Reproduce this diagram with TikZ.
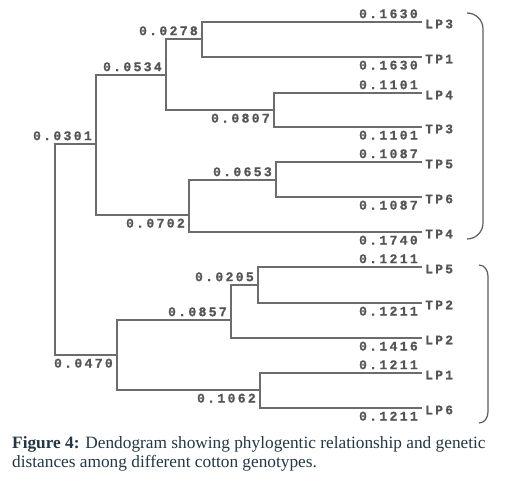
\documentclass[tikz,border=0pt]{standalone}
\usepackage{fontspec}
\setmainfont{Liberation Serif}
\newfontfamily\treefont[LetterSpace=17,BoldFeatures={FakeBold=0.8}]{Liberation Mono}
\usetikzlibrary{positioning}
\definecolor{brLine}{RGB}{108,108,108}
\definecolor{txGray}{RGB}{85,85,85}
\definecolor{capInk}{RGB}{35,55,68}
\begin{document}
\begin{tikzpicture}[x=1pt,y=-1pt,
  br/.style={draw=brLine,line width=1.4pt},
  brk/.style={draw=brLine!85!black,line width=1.2pt},
  dist/.style={font=\treefont\bfseries\fontsize{13.2}{14}\selectfont,text=txGray,inner sep=1.5pt},
  up/.style={dist,anchor=south east,xshift=-2pt,yshift=1.5pt},
  dn/.style={dist,anchor=north east,xshift=-2pt,yshift=-1.5pt},
  leaf/.style={font=\treefont\bfseries\fontsize{13}{14}\selectfont,text=txGray,anchor=west,
    text height=7.5pt,text depth=0pt,inner sep=3pt}]
\useasboundingbox (0,0) rectangle (509,490);
\coordinate (root) at (55,250);
\coordinate (nA) at (96,144);
\coordinate (nB) at (166,75);
\coordinate (nC) at (202,39);
\coordinate (nD) at (274,110);
\coordinate (nE) at (189,215);
\coordinate (nF) at (276,180);
\coordinate (nG) at (117,355);
\coordinate (nH) at (231,320);
\coordinate (nI) at (258,285);
\coordinate (nJ) at (260,390);
\foreach \name/\y in {LP3/22,TP1/57,LP4/93,TP3/127,TP5/162,TP6/197,TP4/232,LP5/267,TP2/303,LP2/338,LP1/373,LP6/408}
  \node[leaf] (\name) at (422,\y) {\raisebox{-2.5pt}{\name}};
\draw[br] (root) |- (nA) node[up]{0.0301};
\draw[br] (root) |- (nG) node[dn]{0.0470};
\draw[br] (nA) |- (nB) node[up]{0.0534};
\draw[br] (nA) |- (nE) node[dn]{0.0702};
\draw[br] (nB) |- (nC) node[up]{0.0278};
\draw[br] (nB) |- (nD) node[dn]{0.0807};
\draw[br] (nC) |- (LP3.west) node[up]{0.1630};
\draw[br] (nC) |- (TP1.west) node[dn]{0.1630};
\draw[br] (nD) |- (LP4.west) node[up]{0.1101};
\draw[br] (nD) |- (TP3.west) node[dn]{0.1101};
\draw[br] (nE) |- (nF) node[up]{0.0653};
\draw[br] (nE) |- (TP4.west) node[dn]{0.1740};
\draw[br] (nF) |- (TP5.west) node[up]{0.1087};
\draw[br] (nF) |- (TP6.west) node[dn]{0.1087};
\draw[br] (nG) |- (nH) node[up]{0.0857};
\draw[br] (nG) |- (nJ) node[dn]{0.1062};
\draw[br] (nH) |- (nI) node[up]{0.0205};
\draw[br] (nH) |- (LP2.west) node[dn]{0.1416};
\draw[br] (nI) |- (LP5.west) node[up]{0.1211};
\draw[br] (nI) |- (TP2.west) node[dn]{0.1211};
\draw[br] (nJ) |- (LP1.west) node[up]{0.1211};
\draw[br] (nJ) |- (LP6.west) node[dn]{0.1211};
\draw[brk] (467,13) to[out=0,in=90] (483,29) -- (483,223) to[out=-90,in=0] (467,239);
\draw[brk] (479,265) to[out=0,in=90] (488,276) -- (488,412) to[out=-90,in=0] (479,423);
\node[anchor=north west,align=left,text=capInk,inner sep=0pt,font=\fontsize{17.3}{19}\selectfont] (cap) at (12,436)
  {\textbf{Figure 4:} Dendogram showing phylogentic relationship and genetic\\distances among different cotton genotypes.};
\end{tikzpicture}
\end{document}
